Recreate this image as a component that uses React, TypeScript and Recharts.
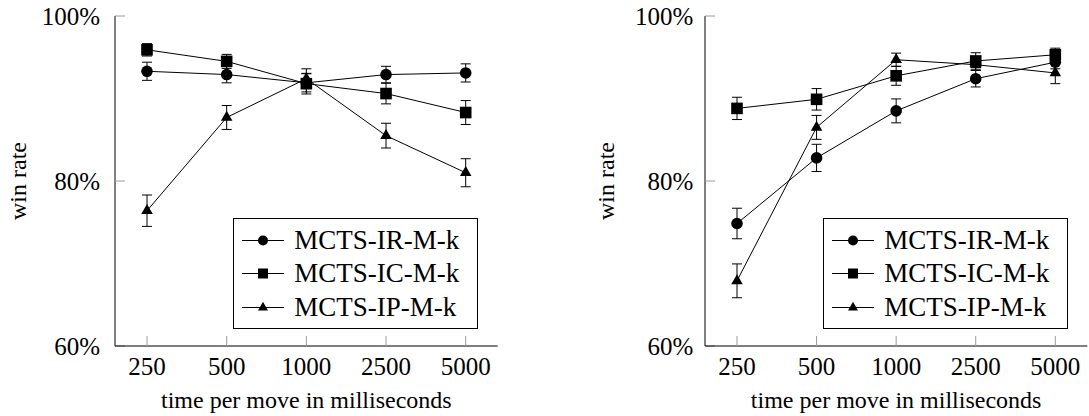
import React from 'react';
import { LineChart, Line, XAxis, YAxis, ErrorBar, Legend } from 'recharts';

const categories = ['250', '500', '1000', '2500', '5000'];
const seriesNames = ['MCTS-IR-M-k', 'MCTS-IC-M-k', 'MCTS-IP-M-k'];
const yTicks = [60, 80, 100];
const xLabel = 'time per move in milliseconds';
const yLabel = 'win rate';

// left panel
const leftIR = [93.3, 92.9, 91.9, 92.9, 93.1];
const leftIRErr = [1.1, 1.0, 1.1, 1.0, 1.1];
const leftIC = [95.9, 94.5, 91.8, 90.6, 88.3];
const leftICErr = [0.75, 0.85, 1.25, 1.25, 1.45];
const leftIP = [76.4, 87.7, 92.4, 85.5, 81.0];
const leftIPErr = [1.9, 1.45, 1.2, 1.5, 1.7];

// right panel
const rightIR = [74.85, 82.8, 88.5, 92.4, 94.4];
const rightIRErr = [1.85, 1.65, 1.45, 1.0, 0.8];
const rightIC = [88.8, 89.9, 92.75, 94.55, 95.3];
const rightICErr = [1.35, 1.3, 1.15, 1.0, 0.8];
const rightIP = [67.9, 86.5, 94.7, 94.1, 93.1];
const rightIPErr = [2.05, 1.45, 0.8, 0.7, 1.3];

const FONT = '"Liberation Serif", "Times New Roman", serif';

function buildRows(ir: number[], irErr: number[], ic: number[], icErr: number[], ip: number[], ipErr: number[]) {
  return categories.map((t, i) => ({
    t,
    ir: ir[i], irErr: irErr[i],
    ic: ic[i], icErr: icErr[i],
    ip: ip[i], ipErr: ipErr[i],
  }));
}

const leftRows = buildRows(leftIR, leftIRErr, leftIC, leftICErr, leftIP, leftIPErr);
const rightRows = buildRows(rightIR, rightIRErr, rightIC, rightICErr, rightIP, rightIPErr);

const circleShape = (cx: number, cy: number, s: number, key?: any) => (
  <circle key={key} cx={cx} cy={cy} r={s} fill="#000" stroke="none" />
);
const squareShape = (cx: number, cy: number, s: number, key?: any) => (
  <rect key={key} x={cx - s} y={cy - s} width={2 * s} height={2 * s} fill="#000" stroke="none" />
);
const triangleShape = (cx: number, cy: number, s: number, key?: any) => {
  const r = s * 1.15;
  const h = r * 0.866;
  return (
    <polygon
      key={key}
      points={`${cx},${cy - r} ${cx + h},${cy + r / 2} ${cx - h},${cy + r / 2}`}
      fill="#000"
      stroke="none"
    />
  );
};
const shapes = [circleShape, squareShape, triangleShape];

const makeDot = (idx: number) => (p: any) => {
  if (p.cx == null || p.cy == null) return <g key={p.index} />;
  return shapes[idx](p.cx, p.cy, 5.8, p.index);
};

const LegendBox = () => (
  <div
    style={{
      border: '1px solid #000',
      background: '#fff',
      width: 245,
      height: 111,
      boxSizing: 'border-box',
      paddingTop: 5,
      paddingLeft: 8,
      fontFamily: FONT,
      fontSize: 27,
      color: '#000',
    }}
  >
    {seriesNames.map((n, i) => (
      <div key={n} style={{ display: 'flex', alignItems: 'center', height: 33.3 }}>
        <svg width={42} height={33} style={{ display: 'block' }}>
          <line x1={0} x2={42} y1={16.5} y2={16.5} stroke="#000" strokeWidth={1} />
          {shapes[i](21, 16.5, 5)}
        </svg>
        <span style={{ marginLeft: 10, lineHeight: '33px', whiteSpace: 'nowrap' }}>{n}</span>
      </div>
    ))}
  </div>
);

type PanelProps = {
  rows: any[];
  width: number;
  yAxisWidth: number;
  marginRight: number;
  yTickMargin: number;
  yLabelOffset: number;
  legendLeft: number;
};

const keys = ['ir', 'ic', 'ip'];

function Panel({ rows, width, yAxisWidth, marginRight, yTickMargin, yLabelOffset, legendLeft }: PanelProps) {
  const tickLineStyle = { stroke: '#9a9a9a', strokeWidth: 1 };
  const axisLineStyle = { stroke: '#000', strokeWidth: 1 };
  return (
    <LineChart
      width={width}
      height={416}
      data={rows}
      margin={{ top: 16, right: marginRight, bottom: 0, left: 0 }}
      style={{ fontFamily: FONT }}
    >
      <YAxis
        yAxisId="l"
        orientation="left"
        type="number"
        domain={[60, 100]}
        ticks={yTicks}
        width={yAxisWidth}
        tickSize={-10}
        tickMargin={yTickMargin}
        tickLine={tickLineStyle}
        axisLine={axisLineStyle}
        tick={{ fill: '#000', fontSize: 25, fontFamily: FONT }}
        tickFormatter={(v: number) => `${v}%`}
        label={{
          value: yLabel,
          angle: -90,
          position: 'insideLeft',
          offset: yLabelOffset,
          fill: '#000',
          fontSize: 24,
          fontFamily: FONT,
          style: { textAnchor: 'middle' },
        }}
      />
      <YAxis
        yAxisId="r"
        orientation="right"
        type="number"
        domain={[60, 100]}
        ticks={yTicks}
        width={0}
        tickSize={-10}
        tickLine={tickLineStyle}
        axisLine={axisLineStyle}
        tick={false}
      />
      <XAxis
        xAxisId="top"
        orientation="top"
        dataKey="t"
        height={0}
        padding={{ left: 32, right: 32 }}
        interval={0}
        tickSize={-10}
        tickLine={tickLineStyle}
        axisLine={axisLineStyle}
        tick={false}
      />
      <XAxis
        xAxisId="b"
        orientation="bottom"
        dataKey="t"
        height={70}
        padding={{ left: 32, right: 32 }}
        interval={0}
        tickSize={-10}
        tickMargin={21}
        tickLine={tickLineStyle}
        axisLine={axisLineStyle}
        tick={{ fill: '#000', fontSize: 25, fontFamily: FONT }}
        label={{
          value: xLabel,
          position: 'insideBottom',
          offset: 8,
          fill: '#000',
          fontSize: 24,
          fontFamily: FONT,
        }}
      />
      {keys.map((k, i) => (
        <Line
          key={k}
          xAxisId="b"
          yAxisId="l"
          dataKey={k}
          name={seriesNames[i]}
          stroke="#000"
          strokeWidth={1}
          dot={makeDot(i)}
          activeDot={false}
          isAnimationActive={false}
        >
          <ErrorBar dataKey={`${k}Err`} width={5} stroke="#000" strokeWidth={1} direction="y" />
        </Line>
      ))}
      <Legend
        layout="vertical"
        align="center"
        verticalAlign="middle"
        content={() => <LegendBox />}
        wrapperStyle={{ left: legendLeft, top: 218, width: 245, height: 111 }}
      />
    </LineChart>
  );
}

export default function App() {
  return (
    <div style={{ position: 'absolute', left: 0, top: 0, width: 1089, height: 416, background: '#fff' }}>
      <div style={{ position: 'absolute', left: 0, top: 0 }}>
        <Panel
          rows={leftRows}
          width={520}
          yAxisWidth={115}
          marginRight={22.3}
          yTickMargin={25}
          yLabelOffset={17}
          legendLeft={233.3}
        />
      </div>
      <div style={{ position: 'absolute', left: 540, top: 0 }}>
        <Panel
          rows={rightRows}
          width={549}
          yAxisWidth={165}
          marginRight={1.7}
          yTickMargin={21.7}
          yLabelOffset={65}
          legendLeft={283.3}
        />
      </div>
    </div>
  );
}
